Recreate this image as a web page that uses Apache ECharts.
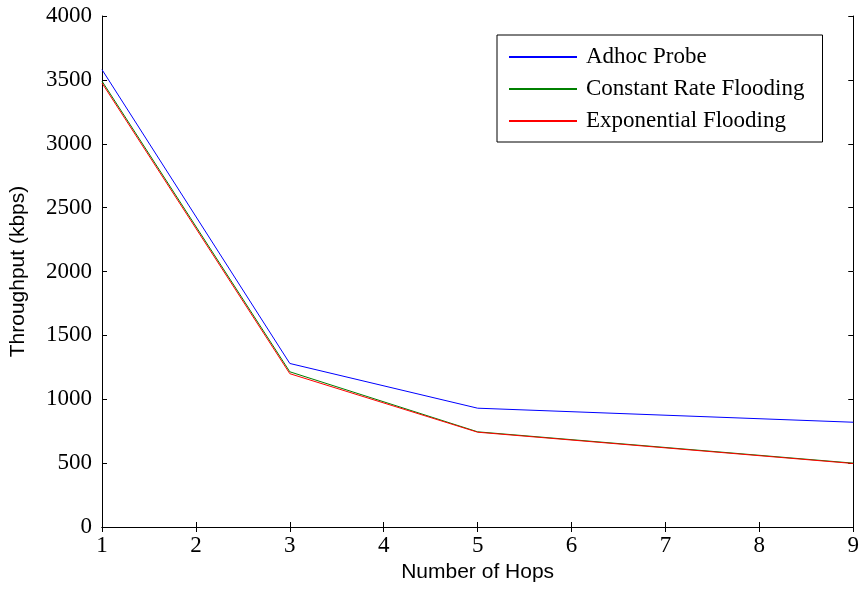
<!DOCTYPE html>
<html><head><meta charset="utf-8">
<script src="https://cdn.jsdelivr.net/npm/echarts@6/dist/echarts.min.js"></script>
<style>html,body{margin:0;padding:0;background:#fff}#c{width:862px;height:592px}</style>
</head><body><div id="c"></div>
<script>
const hops = [1, 3, 5, 9];
const adhocProbe = [3580, 1280, 930, 820];
const constantRate = [3490, 1215, 745, 500];
const exponential = [3475, 1200, 742, 497];
const xTicks = [1, 2, 3, 4, 5, 6, 7, 8, 9];
const yTicks = [0, 500, 1000, 1500, 2000, 2500, 3000, 3500, 4000];
const seriesNames = ['Adhoc Probe', 'Constant Rate Flooding', 'Exponential Flooding'];
const colors = ['#0000ff', '#008000', '#ff0000'];

const pairs = v => hops.map((h, i) => [h, v[i]]);
const serif = 'Liberation Serif';
const sans = 'Liberation Sans';
const axisLine = {show: true, lineStyle: {color: '#000', width: 1}};
const tick = {show: true, inside: true, length: 5, lineStyle: {color: '#000'}};
const plain = v => String(v);

const chart = echarts.init(document.getElementById('c'), null, {renderer: 'canvas'});
chart.setOption({
  animation: false,
  backgroundColor: '#fff',
  grid: {left: 102, right: 7, top: 16, bottom: 65, containLabel: false},
  legend: {
    data: seriesNames,
    orient: 'vertical',
    left: 497, top: 35,
    padding: [9, 18, 8, 12],
    itemGap: 6,
    itemWidth: 68, itemHeight: 2,
    icon: 'rect',
    borderColor: '#000', borderWidth: 1, borderRadius: 0,
    backgroundColor: '#fff',
    textStyle: {fontFamily: serif, fontSize: 23, color: '#000', lineHeight: 26, padding: [0, 0, 0, 4]}
  },
  xAxis: [{
    type: 'value', min: xTicks[0], max: xTicks[xTicks.length - 1], interval: 1,
    name: 'Number of Hops', nameLocation: 'middle', nameGap: 35,
    nameTextStyle: {fontFamily: sans, fontSize: 21, color: '#000'},
    axisLine, axisTick: tick, splitLine: {show: false},
    axisLabel: {fontFamily: serif, fontSize: 23, color: '#000', margin: 7, formatter: plain}
  }, {
    type: 'value', position: 'top', min: 1, max: 9, interval: 1,
    axisLine, axisTick: tick, axisLabel: {show: false}, splitLine: {show: false}
  }],
  yAxis: [{
    type: 'value', min: yTicks[0], max: yTicks[yTicks.length - 1], interval: 500,
    name: 'Throughput (kbps)', nameLocation: 'middle', nameGap: 73,
    nameTextStyle: {fontFamily: sans, fontSize: 21, color: '#000'},
    axisLine, axisTick: tick, splitLine: {show: false},
    axisLabel: {fontFamily: serif, fontSize: 23, color: '#000', margin: 10, formatter: plain}
  }, {
    type: 'value', position: 'right', min: 0, max: 4000, interval: 500,
    axisLine, axisTick: tick, axisLabel: {show: false}, splitLine: {show: false}
  }],
  series: [adhocProbe, constantRate, exponential].map((v, i) => ({
    name: seriesNames[i], type: 'line', data: pairs(v),
    showSymbol: false, symbol: 'none',
    color: colors[i],
    lineStyle: {color: colors[i], width: 1}
  }))
});
</script></body></html>
